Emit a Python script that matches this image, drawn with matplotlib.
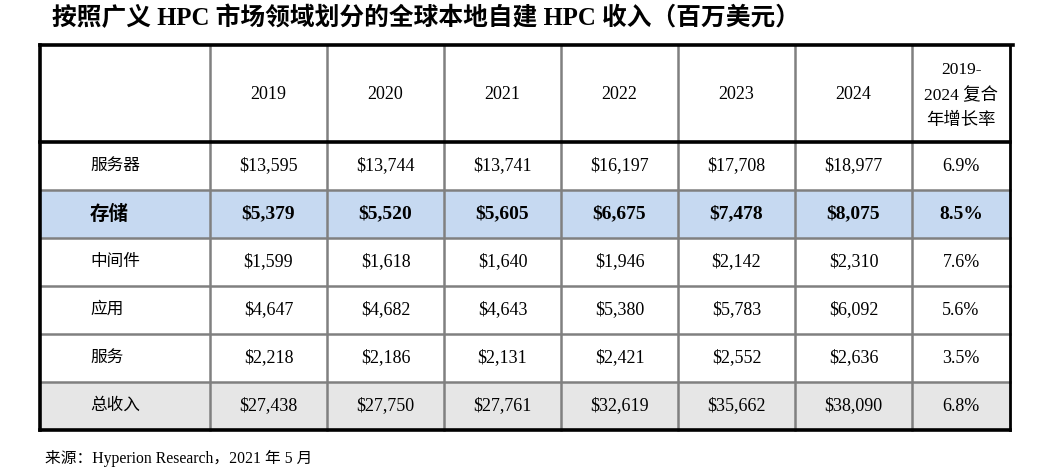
import matplotlib
matplotlib.use("Agg")
import matplotlib.pyplot as plt
from matplotlib.patches import Rectangle

plt.rcParams['font.family'] = ['Liberation Serif', 'Noto Sans CJK SC', 'DejaVu Sans']

# 数据
title = "按照广义 HPC 市场领域划分的全球本地自建 HPC 收入（百万美元）"
source = "来源：Hyperion Research，2021 年 5 月"
years = ["2019", "2020", "2021", "2022", "2023", "2024"]
cagr_header = "2019-\n2024 复合\n年增长率"
categories = ["服务器", "存储", "中间件", "应用", "服务", "总收入"]
servers = [13595, 13744, 13741, 16197, 17708, 18977]
storage = [5379, 5520, 5605, 6675, 7478, 8075]
middleware = [1599, 1618, 1640, 1946, 2142, 2310]
applications = [4647, 4682, 4643, 5380, 5783, 6092]
services = [2218, 2186, 2131, 2421, 2552, 2636]
total = [27438, 27750, 27761, 32619, 35662, 38090]
cagr = [6.9, 8.5, 7.6, 5.6, 3.5, 6.8]
rows = [servers, storage, middleware, applications, services, total]

# 版式 (像素坐标)
col_x = [40, 210, 327, 444, 561, 678, 795, 912, 1010]
header_top, header_bot = 45, 142
row_h = 48
row_y = [header_bot + i * row_h for i in range(len(rows) + 1)]
fills = {1: '#c6d9f1', 5: '#e6e6e6'}

fig = plt.figure(figsize=(10.47, 4.73), dpi=100)
ax = fig.add_axes([0, 0, 1, 1])
ax.set_xlim(0, 1047)
ax.set_ylim(473, 0)
ax.axis('off')

ax.text(52, 18, title, fontsize=17.8, fontweight='bold', va='center', ha='left')

# 底色
for i, c in fills.items():
    ax.add_patch(Rectangle((col_x[0], row_y[i]), col_x[-1] - col_x[0], row_h,
                           facecolor=c, edgecolor='none', zorder=0))

gray = '#808080'
# 内部网格线
for x in col_x[1:-1]:
    ax.plot([x, x], [header_top, row_y[-1]], color=gray, lw=1.8, zorder=1)
for y in row_y[1:-1]:
    ax.plot([col_x[0], col_x[-1]], [y, y], color=gray, lw=1.8, zorder=1)

# 黑色外框
ax.plot([col_x[0], 1013], [header_top, header_top], color='black', lw=2.6, zorder=2)
ax.plot([col_x[0], col_x[-1]], [header_bot, header_bot], color='black', lw=2.6, zorder=2)
ax.plot([col_x[0], col_x[-1]], [row_y[-1], row_y[-1]], color='black', lw=2.6, zorder=2)
ax.plot([col_x[0], col_x[0]], [header_top, row_y[-1]], color='black', lw=2.6, zorder=2)
ax.plot([col_x[-1], col_x[-1]], [header_top, row_y[-1]], color='black', lw=2.0, zorder=2)

# 表头
hy = (header_top + header_bot) / 2 + 1
for j, yr in enumerate(years):
    cx = (col_x[j + 1] + col_x[j + 2]) / 2
    ax.text(cx, hy, yr, fontsize=13, ha='center', va='center')
ax.text((col_x[-2] + col_x[-1]) / 2, hy + 1, cagr_header, fontsize=12.5,
        ha='center', va='center', linespacing=1.75)

# 数据行
for i, (cat, vals) in enumerate(zip(categories, rows)):
    cy = (row_y[i] + row_y[i + 1]) / 2
    bold = (i == 1)
    w = 'bold' if bold else 'normal'
    fs_cn = 14 if bold else 12
    fs_num = 14 if bold else 13
    ax.text(90, cy, cat, fontsize=fs_cn, fontweight=w, ha='left', va='center')
    for j, v in enumerate(vals):
        cx = (col_x[j + 1] + col_x[j + 2]) / 2
        ax.text(cx, cy, f"${v:,}", fontsize=fs_num, fontweight=w, ha='center', va='center')
    ax.text((col_x[-2] + col_x[-1]) / 2, cy, f"{cagr[i]:.1f}%", fontsize=fs_num,
            fontweight=w, ha='center', va='center')

ax.text(45, 458, source, fontsize=11.3, ha='left', va='center')

fig.savefig("out.png", dpi=100)
